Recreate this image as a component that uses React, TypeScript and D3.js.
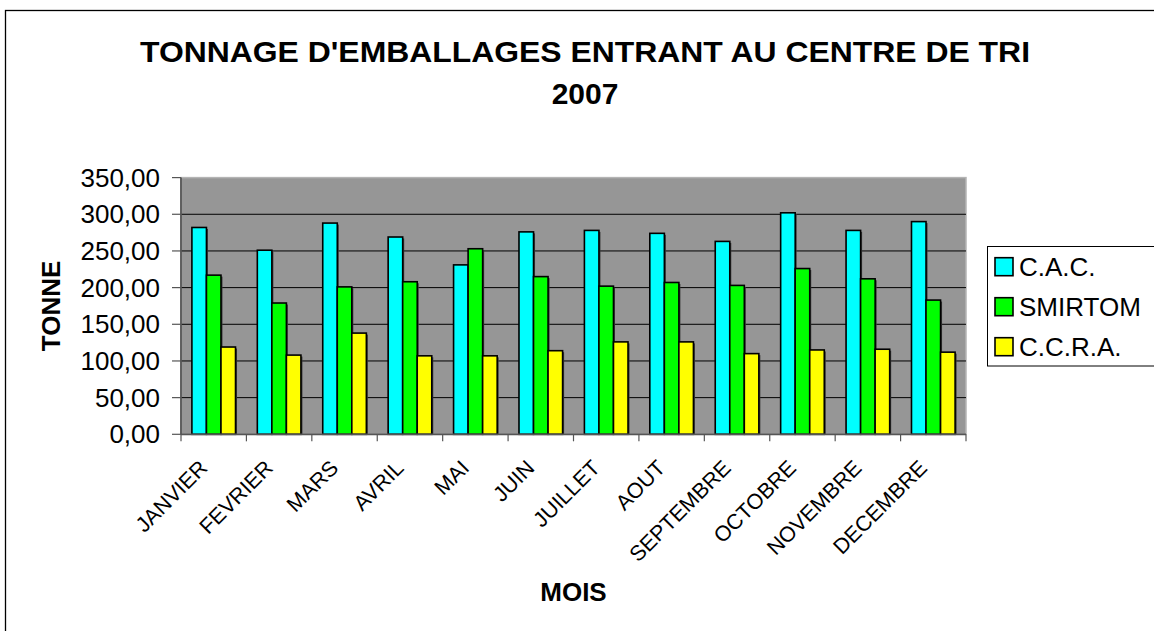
import React, { Component } from "react";
import * as d3 from "d3";

// chart values
const months = ["JANVIER", "FEVRIER", "MARS", "AVRIL", "MAI", "JUIN", "JUILLET", "AOUT", "SEPTEMBRE", "OCTOBRE", "NOVEMBRE", "DECEMBRE"];
const seriesNames = ["C.A.C.", "SMIRTOM", "C.C.R.A."];
const cac = [282, 251, 288, 269, 231, 276, 278, 274, 263, 302, 278, 290];
const smirtom = [217, 179, 201, 208, 253, 215, 202, 207, 203, 226, 212, 183];
const ccra = [119, 108, 138, 107, 107, 114, 126, 126, 110, 115, 116, 112];
const yTicks = [0, 50, 100, 150, 200, 250, 300, 350];

class App extends Component {
  svgRef = React.createRef<SVGSVGElement>();

  componentDidMount() {
    this.drawChart();
  }

  drawChart() {
    const width = 1154;
    const height = 631;
    const plot = { left: 181, right: 966, top: 177.6, bottom: 434.3 };
    const colors = { "C.A.C.": "#00ffff", "SMIRTOM": "#00ff00", "C.C.R.A.": "#ffff00" };
    const font = "Arial, 'Liberation Sans', sans-serif";

    const values = { "C.A.C.": cac, "SMIRTOM": smirtom, "C.C.R.A.": ccra };
    const rows = months.map((m, i) => {
      const row: any = { month: m };
      seriesNames.forEach((s) => (row[s] = values[s][i]));
      return row;
    });

    const fr = d3.formatLocale({ decimal: ",", thousands: " ", grouping: [3], currency: ["", " €"] });
    const fmt = fr.format(".2f");

    const svg = d3.select(this.svgRef.current);
    svg.selectAll("*").remove();
    svg.attr("width", width).attr("height", height);

    // outer chart frame (runs past the right and bottom edge)
    svg.append("rect")
      .attr("x", 5.5).attr("y", 10.5)
      .attr("width", width + 20).attr("height", height + 20)
      .attr("fill", "white").attr("stroke", "#000").attr("stroke-width", 1.3);

    const x0 = d3.scaleBand().domain(months).range([plot.left, plot.right]).padding(0);
    const x1 = d3.scaleBand().domain(seriesNames).range([0, x0.bandwidth()]).paddingInner(0).paddingOuter(0.75);
    const y = d3.scaleLinear().domain([0, 350]).range([plot.bottom, plot.top]);

    // plot area
    svg.append("rect")
      .attr("x", plot.left).attr("y", plot.top)
      .attr("width", plot.right - plot.left).attr("height", plot.bottom - plot.top)
      .attr("fill", "#969696").attr("stroke", "#b4b4b4").attr("stroke-width", 1.5);

    // gridlines
    svg.append("g").selectAll("line")
      .data(yTicks.filter((t) => t > 0 && t < 350))
      .enter().append("line")
      .attr("x1", plot.left).attr("x2", plot.right)
      .attr("y1", (d) => y(d)).attr("y2", (d) => y(d))
      .attr("stroke", "#000").attr("stroke-width", 1);

    // bars
    const groups = svg.append("g").selectAll("g")
      .data(rows).enter().append("g")
      .attr("transform", (d) => `translate(${x0(d.month)},0)`);

    const bars = groups.selectAll("g")
      .data((d) => seriesNames.map((s) => ({ key: s, value: d[s] })))
      .enter().append("g");

    bars.append("rect")
      .attr("x", (d) => x1(d.key)! + 1.5)
      .attr("y", (d) => y(d.value) + 1.5)
      .attr("width", x1.bandwidth())
      .attr("height", (d) => y(0) - y(d.value) - 1.5)
      .attr("fill", "#3a3a3a");

    bars.append("rect")
      .attr("x", (d) => x1(d.key)!)
      .attr("y", (d) => y(d.value))
      .attr("width", x1.bandwidth())
      .attr("height", (d) => y(0) - y(d.value))
      .attr("fill", (d) => colors[d.key])
      .attr("stroke", "#000").attr("stroke-width", 1.6);

    // y axis
    const yAxis = svg.append("g");
    yAxis.append("line")
      .attr("x1", plot.left).attr("x2", plot.left)
      .attr("y1", plot.top).attr("y2", plot.bottom)
      .attr("stroke", "#555").attr("stroke-width", 1.8);
    yAxis.selectAll(".tick").data(yTicks).enter().append("line")
      .attr("x1", plot.left - 9).attr("x2", plot.left)
      .attr("y1", (d) => y(d)).attr("y2", (d) => y(d))
      .attr("stroke", "#555").attr("stroke-width", 1.2);
    yAxis.selectAll("text").data(yTicks).enter().append("text")
      .attr("x", 160).attr("y", (d) => y(d) + 9)
      .attr("text-anchor", "end")
      .style("font-family", font).style("font-size", "26px").style("fill", "#000")
      .text((d) => fmt(d));

    // x axis
    const xAxis = svg.append("g");
    xAxis.append("line")
      .attr("x1", plot.left).attr("x2", plot.right)
      .attr("y1", plot.bottom).attr("y2", plot.bottom)
      .attr("stroke", "#555").attr("stroke-width", 1.8);
    const boundaries = months.map((m) => x0(m)!).concat([plot.right]);
    xAxis.selectAll(".tick").data(boundaries).enter().append("line")
      .attr("x1", (d) => d).attr("x2", (d) => d)
      .attr("y1", plot.bottom).attr("y2", plot.bottom + 7)
      .attr("stroke", "#555").attr("stroke-width", 1.2);
    xAxis.selectAll("text").data(months).enter().append("text")
      .attr("transform", (d) => `translate(${x0(d)! + x0.bandwidth() / 2 - 5},${plot.bottom + 35}) rotate(-45)`)
      .attr("text-anchor", "end")
      .style("font-family", font).style("font-size", "21.5px").style("fill", "#000")
      .text((d) => d);

    // titles
    svg.append("text")
      .attr("x", 585).attr("y", 62)
      .attr("text-anchor", "middle")
      .style("font-family", font).style("font-size", "30px").style("font-weight", "bold")
      .attr("textLength", 890).attr("lengthAdjust", "spacingAndGlyphs")
      .text("TONNAGE D'EMBALLAGES ENTRANT AU CENTRE DE TRI");
    svg.append("text")
      .attr("x", 585).attr("y", 103.5)
      .attr("text-anchor", "middle")
      .style("font-family", font).style("font-size", "30px").style("font-weight", "bold")
      .text("2007");

    svg.append("text")
      .attr("x", (plot.left + plot.right) / 2).attr("y", 601)
      .attr("text-anchor", "middle")
      .style("font-family", font).style("font-size", "26px").style("font-weight", "bold")
      .text("MOIS");

    svg.append("text")
      .attr("transform", `translate(60,${(plot.top + plot.bottom) / 2}) rotate(-90)`)
      .attr("text-anchor", "middle")
      .style("font-family", font).style("font-size", "26px").style("font-weight", "bold")
      .text("TONNE");

    // legend
    const legend = svg.append("g");
    legend.append("rect")
      .attr("x", 987.5).attr("y", 246.5)
      .attr("width", 200).attr("height", 119.5)
      .attr("fill", "white").attr("stroke", "#000").attr("stroke-width", 1);
    seriesNames.forEach((s, i) => {
      const cy = 266.7 + i * 40;
      legend.append("rect")
        .attr("x", 995).attr("y", cy - 9)
        .attr("width", 18).attr("height", 18)
        .attr("fill", colors[s]).attr("stroke", "#000").attr("stroke-width", 1.6);
      legend.append("text")
        .attr("x", 1019).attr("y", cy + 9.5)
        .style("font-family", font).style("font-size", "26px").style("fill", "#000")
        .text(s);
    });
  }

  render() {
    return (
      <svg ref={this.svgRef} style={{ position: "absolute", left: 0, top: 0, width: 1154, height: 631 }}></svg>
    );
  }
}

export default App;
